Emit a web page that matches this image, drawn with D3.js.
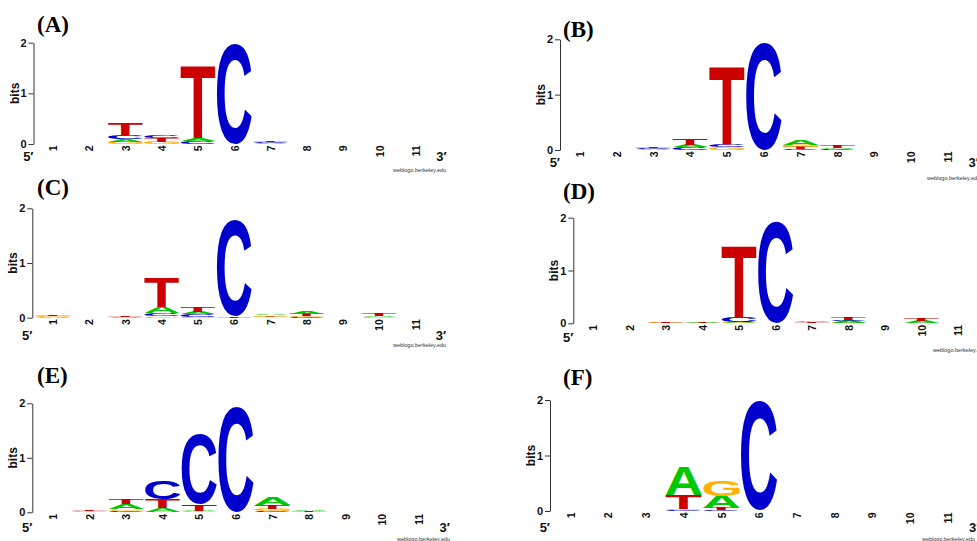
<!DOCTYPE html>
<html>
<head>
<meta charset="utf-8">
<script src="https://cdnjs.cloudflare.com/ajax/libs/d3/7.8.5/d3.min.js"></script>
<style>
  body { margin: 0; background: #fff; }
  svg text { font-family: "Liberation Sans", Arial, Helvetica, sans-serif; }
</style>
</head>
<body>
<svg id="chart" width="977" height="541"></svg>
<script>
// sequence positions and bit ticks shared by all six logos
var positions = [1, 2, 3, 4, 5, 6, 7, 8, 9, 10, 11];
var yTicks = [0, 1, 2];
var panelLabels = ["(A)", "(B)", "(C)", "(D)", "(E)", "(F)"];

// one stack per position, letters listed bottom to top as [base, bits]
var logoA = [[], [],
  [["G", 0.04], ["A", 0.06], ["C", 0.07], ["T", 0.24]],
  [["G", 0.045], ["T", 0.07], ["C", 0.045]],
  [["C", 0.06], ["A", 0.06], ["T", 1.44]],
  [["C", 1.98]],
  [["A", 0.01], ["C", 0.02], ["T", 0.03]],
  [], [], [], []];

var logoB = [[], [],
  [["A", 0.01], ["C", 0.03], ["T", 0.03]],
  [["C", 0.05], ["A", 0.04], ["T", 0.11]],
  [["G", 0.05], ["C", 0.05], ["T", 1.40]],
  [["C", 1.92]],
  [["C", 0.01], ["T", 0.04], ["G", 0.04], ["A", 0.08]],
  [["C", 0.01], ["A", 0.025], ["T", 0.035]],
  [], [], []];

var logoC = [
  [["A", 0.01], ["G", 0.015], ["T", 0.02]],
  [],
  [["A", 0.015], ["T", 0.02]],
  [["G", 0.03], ["C", 0.05], ["A", 0.11], ["T", 0.54]],
  [["G", 0.02], ["C", 0.04], ["A", 0.04], ["T", 0.10]],
  [["T", 0.03], ["C", 1.76]],
  [["C", 0.005], ["T", 0.015], ["G", 0.025], ["A", 0.03]],
  [["C", 0.01], ["G", 0.03], ["T", 0.035], ["A", 0.04]],
  [],
  [["G", 0.01], ["A", 0.03], ["T", 0.035]],
  []];

var logoD = [[], [],
  [["G", 0.01], ["T", 0.02]],
  [["T", 0.015], ["A", 0.02]],
  [["G", 0.01], ["A", 0.02], ["C", 0.09], ["T", 1.35]],
  [["C", 1.91]],
  [["T", 0.02], ["A", 0.02]],
  [["G", 0.01], ["A", 0.04], ["C", 0.02], ["T", 0.05]],
  [],
  [["A", 0.035], ["T", 0.035]],
  []];

var logoE = [[],
  [["G", 0.015], ["T", 0.03]],
  [["C", 0.03], ["G", 0.03], ["A", 0.085], ["T", 0.10]],
  [["G", 0.01], ["A", 0.07], ["T", 0.16], ["C", 0.34]],
  [["G", 0.02], ["A", 0.01], ["T", 0.12], ["C", 1.27]],
  [["C", 1.93]],
  [["C", 0.02], ["G", 0.04], ["T", 0.08], ["A", 0.145]],
  [["T", 0.02], ["A", 0.03]],
  [], [], []];

var logoF = [[], [], [],
  [["C", 0.01], ["G", 0.02], ["T", 0.26], ["A", 0.51]],
  [["C", 0.01], ["T", 0.04], ["A", 0.22], ["G", 0.28]],
  [["C", 1.97]],
  [], [], [], [], []];

var logos = [logoA, logoB, logoC, logoD, logoE, logoF];

var letterColor = { A: "#00c800", C: "#0000cc", G: "#ffb300", T: "#cc0000" };

// where each logo sits on the page
var layout = [
  { axisX: 33.5, y0: 144,   y2: 42.7,  first: 53,    step: 36.3,  title: [37, 32],   endY: 161,   credit: [393, 172] },
  { axisX: 560,  y0: 150,   y2: 39.3,  first: 580,   step: 36.8,  title: [563, 37],  endY: 166.5, credit: [927, 180] },
  { axisX: 32.3, y0: 317.7, y2: 208.3, first: 53,    step: 36.25, title: [37, 195],  endY: 339.5, credit: [393, 347] },
  { axisX: 573.3,y0: 323.3, y2: 217.7, first: 593.3, step: 36.5,  title: [563, 199], endY: 341.5, credit: [933, 352] },
  { axisX: 32.3, y0: 512.3, y2: 403.3, first: 53,    step: 36.6,  title: [37, 383],  endY: 531.5, credit: [397, 541] },
  { axisX: 550,  y0: 511,   y2: 400,   first: 570.7, step: 37.7,  title: [563, 385], endY: 531.5, credit: [922, 541] }
];

// tight ink box of each glyph, so letters can be stretched to fill their slot
var ctx = document.createElement("canvas").getContext("2d");
ctx.font = 'bold 100px "Liberation Sans"';
var ink = {};
"ACGT".split("").forEach(function(ch) {
  var m = ctx.measureText(ch);
  ink[ch] = { left: m.actualBoundingBoxLeft, right: m.actualBoundingBoxRight,
              asc: m.actualBoundingBoxAscent, desc: m.actualBoundingBoxDescent };
});

var svg = d3.select("#chart");

logos.forEach(function(logo, p) {
  var L = layout[p];
  var g = svg.append("g");

  var x = d3.scaleBand()
    .domain(positions)
    .range([L.first - L.step / 2, L.first + (positions.length - 0.5) * L.step])
    .paddingInner(0.035)
    .paddingOuter(0.0175);
  var y = d3.scaleLinear().domain([0, 2]).range([L.y0, L.y2]);

  // flatten stacks into letters with base/top
  var letters = [];
  logo.forEach(function(stack, i) {
    var base = 0;
    stack.forEach(function(d) {
      letters.push({ pos: positions[i], ch: d[0], base: base, top: base + d[1] });
      base += d[1];
    });
  });

  g.selectAll("text.letter").data(letters).enter().append("text")
    .attr("class", "letter")
    .style("font-weight", "bold")
    .style("font-size", "100px")
    .attr("fill", function(d) { return letterColor[d.ch]; })
    .attr("transform", function(d) {
      var k = ink[d.ch];
      var sx = x.bandwidth() / (k.left + k.right);
      var sy = (y(d.base) - y(d.top)) / (k.asc + k.desc);
      return "translate(" + x(d.pos) + "," + y(d.top) + ") scale(" + sx + "," + sy + ") translate(" + k.left + "," + k.asc + ")";
    })
    .text(function(d) { return d.ch; });

  // bits axis
  var ax = g.append("g")
    .attr("transform", "translate(" + L.axisX + ",0)")
    .call(d3.axisLeft(y).tickValues(yTicks).tickFormat(d3.format("d"))
      .tickSize(5).tickSizeOuter(0).tickPadding(2));
  ax.selectAll("path, line").attr("stroke", "#333");
  ax.selectAll("text")
    .style("font-family", '"Liberation Sans", Arial, sans-serif')
    .style("font-weight", "bold").style("font-size", "11px").attr("fill", "#111");

  g.append("text")
    .attr("transform", "translate(" + (L.axisX - 19) + "," + ((L.y0 + L.y2) / 2) + ") rotate(-90)")
    .attr("text-anchor", "middle").attr("dominant-baseline", "central")
    .style("font-weight", "bold").style("font-size", "12px").attr("fill", "#111")
    .text("bits");

  // position numbers, turned on their side
  g.selectAll("text.pos").data(positions).enter().append("text")
    .attr("class", "pos")
    .attr("transform", function(d) {
      return "translate(" + (x(d) + x.bandwidth() / 2) + "," + (L.y0 + 1.5) + ") rotate(-90)";
    })
    .attr("text-anchor", "end").attr("dominant-baseline", "central")
    .style("font-weight", "bold").style("font-size", "10.5px").attr("fill", "#111")
    .text(function(d) { return d; });

  g.append("text")
    .attr("x", L.axisX).attr("y", L.endY).attr("text-anchor", "end")
    .style("font-weight", "bold").style("font-size", "13px").attr("fill", "#111")
    .text("5\u2032");
  g.append("text")
    .attr("x", L.first + 10.7 * L.step).attr("y", L.endY).attr("text-anchor", "middle")
    .style("font-weight", "bold").style("font-size", "13px").attr("fill", "#111")
    .text("3\u2032");

  g.append("text")
    .attr("x", L.credit[0]).attr("y", L.credit[1])
    .style("font-size", "5.5px").attr("fill", "#333")
    .text("weblogo.berkeley.edu");

  g.append("text")
    .attr("x", L.title[0]).attr("y", L.title[1])
    .style("font-family", '"Liberation Serif", "Times New Roman", serif')
    .style("font-weight", "bold").style("font-size", "23px").attr("fill", "#000")
    .text(panelLabels[p]);
});
</script>
</body>
</html>
